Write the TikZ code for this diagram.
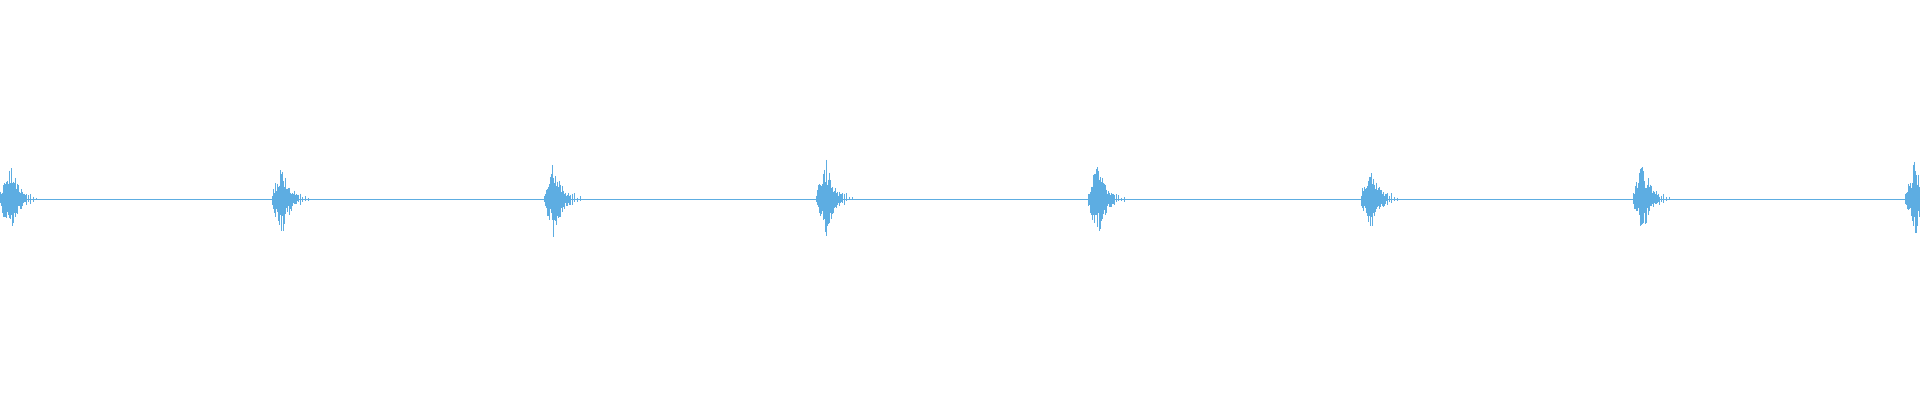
\documentclass[tikz,border=0pt]{standalone}
\definecolor{wave}{RGB}{93,173,226}
\tikzset{wavebar/.style={wave,line width=1pt}}
\begin{document}
\begin{tikzpicture}[x=1pt,y=1pt]
  \useasboundingbox (0,0) rectangle (1920,400);
  \pgfmathsetseed{7}
  % baseline
  \draw[wave,line width=0.8pt] (0,201) -- (1920,201);
  % bursts
  \foreach \k in {0,...,7} {
    \pgfmathsetmacro{\xs}{272.2*\k}
    \foreach \i in {0,...,38} {
      \pgfmathsetmacro{\env}{(\i<10)*(8+3.4*\i) + (\i>=10)*(\i<26)*(40*exp(-(\i-10)/8)) + (\i>=26)*(\i<32)*6*(mod(\i,2)==0) + (\i>=32)*3*(mod(\i,3)==0)}
      \pgfmathsetmacro{\up}{\env*(0.35+0.65*rnd)}
      \pgfmathsetmacro{\dn}{\env*(0.35+0.65*rnd)}
      \draw[wavebar] (\xs+\i,201+\up) -- (\xs+\i,201-\dn);
    }
  }
\end{tikzpicture}
\end{document}
